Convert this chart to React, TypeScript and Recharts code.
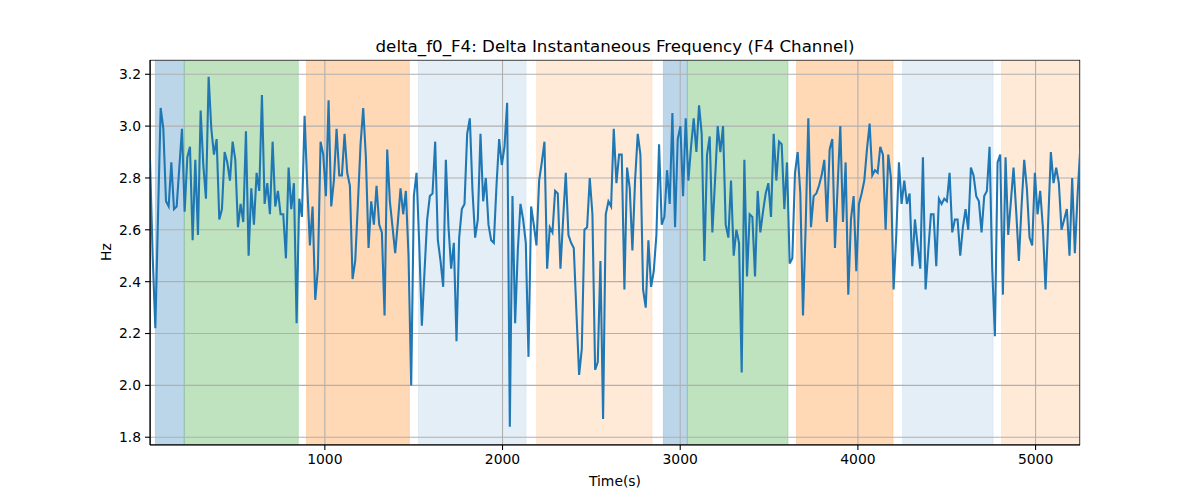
import React from 'react';
import { LineChart, Line, XAxis, YAxis, CartesianGrid, ReferenceArea } from 'recharts';

// sampling of the delta f0 series (seconds)
const T0 = 16;
const DT = 15;

// Hz values, read left to right off the plot
const hzValues = [
  2.87, 2.5, 2.22, 2.65, 3.07, 2.99, 2.71, 2.69, 2.86, 2.68, 2.69, 2.84, 2.99, 2.67, 2.88, 2.92, 2.56, 2.87, 2.58, 3.06,
  2.85, 2.72, 3.19, 2.99, 2.89, 2.95, 2.64, 2.68, 2.9, 2.86, 2.79, 2.94, 2.87, 2.61, 2.7, 2.63, 2.98,
  2.5, 2.76, 2.62, 2.82, 2.75, 3.12, 2.7, 2.78, 2.66, 2.94, 2.69, 2.75, 2.66, 2.66, 2.49, 2.84, 2.68, 2.78, 2.24, 2.72,
  2.65, 3.04, 2.77, 2.54, 2.69, 2.33, 2.45, 2.94, 2.89, 2.73, 3.1, 2.69, 2.79, 2.99, 2.81,
  2.81, 2.97, 2.82, 2.77, 2.41, 2.48, 2.7, 2.93, 3.07, 2.88, 2.53, 2.71, 2.62, 2.77, 2.62, 2.59, 2.27, 2.91, 2.71, 2.61,
  2.51, 2.63, 2.76, 2.66, 2.75, 2.5, 2.0, 2.73, 2.82, 2.55, 2.23, 2.44, 2.64, 2.73, 2.74, 2.94,
  2.56, 2.48, 2.38, 2.87, 2.61, 2.45, 2.55, 2.17, 2.57, 2.68, 2.7, 2.97, 3.03, 2.75, 2.57, 2.64, 2.97, 2.71, 2.8, 2.62,
  2.56, 2.55, 2.77, 2.95, 2.85, 2.92, 3.09, 1.84, 2.73, 2.24, 2.52, 2.7, 2.64, 2.55, 2.11,
  2.69, 2.62, 2.54, 2.79, 2.86, 2.94, 2.45, 2.61, 2.59, 2.75, 2.74, 2.45, 2.64, 2.82, 2.58, 2.55, 2.53, 2.28, 2.04, 2.14,
  2.6, 2.61, 2.8, 2.66, 2.06, 2.09, 2.48, 1.87, 2.66, 2.71, 2.69, 2.99, 2.78, 2.89, 2.89, 2.37,
  2.84, 2.76, 2.52, 2.79, 2.97, 2.89, 2.37, 2.3, 2.56, 2.38, 2.44, 2.58, 2.93, 2.62, 2.65, 2.83, 2.7, 3.05, 2.61, 2.95,
  3.0, 2.73, 3.03, 2.79, 2.92, 3.03, 2.9, 3.08, 2.97, 2.48, 2.89, 2.96, 2.59, 2.79, 3.0, 2.9,
  3.0, 2.62, 2.57, 2.79, 2.5, 2.6, 2.55, 2.05, 2.87, 2.42, 2.66, 2.65, 2.42, 2.75, 2.59, 2.67, 2.74, 2.78, 2.65, 2.97,
  2.79, 2.94, 2.93, 2.68, 2.86, 2.47, 2.49, 2.82, 2.9, 2.74, 2.27, 2.61, 3.03, 2.61, 2.73,
  2.74, 2.77, 2.81, 2.87, 2.63, 2.91, 2.95, 2.53, 2.77, 3.0, 2.63, 2.86, 2.35, 2.64, 2.73, 2.44, 2.7, 2.74, 2.79, 2.91,
  3.01, 2.81, 2.83, 2.82, 2.92, 2.89, 2.6, 2.89, 2.8, 2.37, 2.58, 2.86, 2.7, 2.79, 2.7, 2.74,
  2.46, 2.64, 2.54, 2.45, 2.88, 2.37, 2.52, 2.66, 2.66, 2.46, 2.72, 2.7, 2.72, 2.71, 2.82, 2.59, 2.64, 2.64, 2.5, 2.61,
  2.68, 2.6, 2.84, 2.81, 2.73, 2.71, 2.59, 2.73, 2.75, 2.92, 2.45, 2.19, 2.86, 2.89, 2.35, 2.88,
  2.58, 2.71, 2.84, 2.67, 2.48, 2.69, 2.87, 2.76, 2.57, 2.54, 2.82, 2.66, 2.75, 2.61, 2.37, 2.63, 2.9, 2.78, 2.84, 2.78,
  2.6, 2.64, 2.68, 2.5, 2.8, 2.51, 2.73, 2.91,
];

// shaded segments
const spanStart = [46, 209, 896, 1526, 2191, 2905, 3040, 3654, 4251, 4808];
const spanEnd = [209, 851, 1476, 2133, 2842, 3040, 3607, 4198, 4761, 5250];
const spanColor = ['#1f77b4', '#2ca02c', '#ff7f0e', '#1f77b4', '#ff7f0e', '#1f77b4', '#2ca02c', '#ff7f0e', '#1f77b4', '#ff7f0e'];
const spanAlpha = [0.3, 0.3, 0.3, 0.12, 0.16, 0.3, 0.3, 0.3, 0.12, 0.16];

const xTicks = [1000, 2000, 3000, 4000, 5000];
const yTicks = [1.8, 2.0, 2.2, 2.4, 2.6, 2.8, 3.0, 3.2];

const data = hzValues.map((v, i) => ({ t: T0 + i * DT, hz: v }));

const font = "'DejaVu Sans', sans-serif";
const tickStyle = { fontSize: 13.9, fill: '#000', fontFamily: font };

export default function App() {
  return (
    <div style={{ position: 'absolute', left: 0, top: 0, width: 1200, height: 500, background: '#fff', fontFamily: font }}>
      <div style={{ position: 'absolute', left: 150, width: 930, top: 36, lineHeight: '20px', textAlign: 'center', fontSize: 16.7 }}>
        delta_f0_F4: Delta Instantaneous Frequency (F4 Channel)
      </div>
      <div style={{ position: 'absolute', left: 150, width: 930, top: 473, lineHeight: '16px', textAlign: 'center', fontSize: 13.9 }}>
        Time(s)
      </div>
      <div
        style={{
          position: 'absolute', left: 106, top: 252, lineHeight: '16px', fontSize: 13.9,
          transform: 'translate(-50%, -50%) rotate(-90deg)',
        }}
      >
        Hz
      </div>
      <LineChart width={1200} height={500} data={data} margin={{ top: 60, right: 120, bottom: 25, left: 100 }}>
        {spanStart.map((s, i) => (
          <ReferenceArea
            key={i}
            x1={s}
            x2={spanEnd[i]}
            y1={1.77}
            y2={3.255}
            fill={spanColor[i]}
            fillOpacity={spanAlpha[i]}
            stroke={spanColor[i]}
            strokeOpacity={spanAlpha[i] * 0.6}
            ifOverflow="hidden"
            zIndex={-200}
          />
        ))}
        <CartesianGrid stroke="#b0b0b0" strokeWidth={1.1} />
        <XAxis
          dataKey="t"
          type="number"
          domain={[16, 5250]}
          ticks={xTicks}
          allowDataOverflow
          height={30}
          tickSize={5}
          tickMargin={4}
          tick={tickStyle}
          stroke="#000"
          axisLine={{ stroke: '#000', strokeWidth: 1.1 }}
          tickLine={{ stroke: '#000', strokeWidth: 1.1 }}
        />
        <YAxis
          type="number"
          domain={[1.77, 3.255]}
          ticks={yTicks}
          allowDataOverflow
          width={50}
          tickSize={5}
          tickMargin={4}
          tick={tickStyle}
          tickFormatter={(v: number) => v.toFixed(1)}
          axisLine={{ stroke: '#000', strokeWidth: 1.1 }}
          tickLine={{ stroke: '#000', strokeWidth: 1.1 }}
        />
        <Line
          type="linear"
          dataKey="hz"
          stroke="#1f77b4"
          strokeWidth={2.08}
          dot={false}
          isAnimationActive={false}
        />
        <ReferenceArea x1={16} x2={5250} y1={1.77} y2={3.255} fill="none" stroke="#000" strokeWidth={1.1} ifOverflow="hidden" />
      </LineChart>
    </div>
  );
}
